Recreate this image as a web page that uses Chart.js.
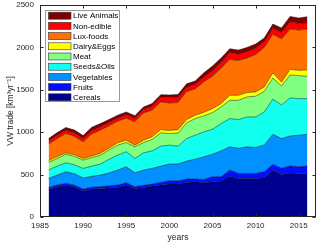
<!DOCTYPE html>
<html>
<head>
<meta charset="utf-8">
<script src="https://cdn.jsdelivr.net/npm/chart.js@4.4.0/dist/chart.umd.min.js"></script>
<style>
html, body { margin: 0; padding: 0; background: #fff; }
#wrap { width: 320px; height: 246px; position: relative; }
</style>
</head>
<body>
<div id="wrap"><canvas id="vwChart"></canvas></div>
<script>
const years = [1986, 1987, 1988, 1989, 1990, 1991, 1992, 1993, 1994, 1995, 1996,
    1997, 1998, 1999, 2000, 2001, 2002, 2003, 2004, 2005, 2006, 2007, 2008, 2009,
    2010, 2011, 2012, 2013, 2014, 2015, 2016];
const cereals = [326, 355, 373, 355, 306, 330, 333, 345, 349, 376, 337, 349, 365, 376, 388, 390,
    408, 416, 405, 416, 424, 482, 455, 455, 450, 463, 553, 498, 518, 514, 514];
const fruits = [23, 23, 23, 20, 23, 22, 24, 23, 27, 28, 20, 24, 23, 32, 39, 35,
    39, 31, 38, 58, 50, 71, 59, 59, 64, 70, 67, 77, 84, 78, 86];
const vegetables = [106, 117, 137, 135, 131, 128, 137, 152, 177, 188, 165, 180, 185, 192, 197, 200,
    212, 235, 267, 267, 306, 274, 296, 313, 306, 317, 355, 350, 353, 373, 375];
const seedsOils = [100, 105, 106, 105, 113, 120, 130, 160, 176, 178, 168, 204, 207, 235, 223, 210,
    266, 283, 294, 294, 322, 334, 339, 353, 360, 389, 415, 397, 449, 431, 421];
const meat = [90, 90, 101, 100, 98, 100, 102, 110, 118, 108, 137, 121, 134, 157, 137, 155,
    185, 196, 188, 196, 196, 215, 227, 236, 244, 243, 249, 223, 271, 271, 263];
const dairyEggs = [20, 22, 17, 20, 19, 20, 23, 22, 28, 28, 20, 28, 31, 39, 36, 40,
    39, 39, 43, 47, 39, 59, 59, 51, 51, 51, 61, 45, 66, 62, 76];
const luxFoods = [195, 213, 228, 215, 196, 258, 275, 263, 254, 259, 275, 321, 314, 326, 325, 320,
    331, 310, 360, 382, 418, 424, 410, 408, 440, 467, 455, 510, 475, 475, 481];
const nonEdible = [40, 40, 37, 40, 40, 40, 39, 40, 36, 43, 43, 40, 47, 59, 63, 60,
    50, 55, 55, 65, 70, 81, 75, 75, 77, 67, 70, 75, 86, 80, 74];
const liveAnimals = [26, 30, 33, 35, 34, 40, 39, 35, 35, 31, 30, 31, 31, 27, 32, 35,
    40, 40, 50, 55, 50, 44, 48, 50, 48, 43, 50, 55, 63, 63, 72];

const seriesNames = ['Cereals', 'Fruits', 'Vegetables', 'Seeds&Oils', 'Meat',
    'Dairy&Eggs', 'Lux-foods', 'Non-edible', 'Live Animals'];
const seriesData = [cereals, fruits, vegetables, seedsOils, meat,
    dairyEggs, luxFoods, nonEdible, liveAnimals];
const seriesColors = ['#00008f', '#0010ff', '#0090ff', '#10ffef', '#80ff80',
    '#ffff00', '#ff7000', '#ff0000', '#800000'];

const xTicks = [1985, 1990, 1995, 2000, 2005, 2010, 2015];
const yTicks = [0, 500, 1000, 1500, 2000, 2500];

const FONT = "'Liberation Sans', Arial, Helvetica, sans-serif";
const AXIS = '#262626';

const datasets = seriesNames.map((name, i) => ({
    label: name,
    data: years.map((yr, k) => ({ x: yr, y: seriesData[i][k] })),
    backgroundColor: seriesColors[i],
    borderColor: 'rgba(0,0,0,0.75)',
    borderWidth: 0.6,
    pointRadius: 0,
    tension: 0,
    fill: i === 0 ? 'origin' : '-1'
}));

// legend box drawn inside the plot, top-left, top layer first
const boxLegend = {
    id: 'boxLegend',
    afterDraw(chart) {
        const ctx = chart.ctx;
        ctx.save();
        ctx.fillStyle = '#fff';
        ctx.fillRect(45, 10, 75, 92);
        ctx.strokeStyle = '#999';
        ctx.lineWidth = 1;
        ctx.strokeRect(45.5, 10.5, 74, 91);
        ctx.font = '8px ' + FONT;
        ctx.textBaseline = 'middle';
        const order = chart.data.datasets.slice().reverse();
        order.forEach((ds, i) => {
            const cy = 15.7 + i * 10.2;
            ctx.fillStyle = ds.backgroundColor;
            ctx.fillRect(48.5, cy - 3.5, 22.5, 7);
            ctx.strokeStyle = '#333';
            ctx.lineWidth = 0.6;
            ctx.strokeRect(48.5, cy - 3.5, 22.5, 7);
            ctx.fillStyle = '#000';
            ctx.fillText(ds.label, 73, cy + 0.5);
        });
        ctx.restore();
    }
};

// axes box with inward ticks on all four sides
const frameTicks = {
    id: 'frameTicks',
    afterDraw(chart) {
        const { ctx, chartArea: a, scales: { x, y } } = chart;
        ctx.save();
        ctx.strokeStyle = AXIS;
        ctx.lineWidth = 1;
        const l = Math.round(a.left) + 0.5, r = Math.round(a.right) - 0.5;
        const t = Math.round(a.top) + 0.5, b = Math.round(a.bottom) - 0.5;
        ctx.strokeRect(l, t, r - l, b - t);
        ctx.beginPath();
        xTicks.forEach(v => {
            const px = Math.round(x.getPixelForValue(v)) + 0.5;
            ctx.moveTo(px, b); ctx.lineTo(px, b - 3);
            ctx.moveTo(px, t); ctx.lineTo(px, t + 3);
        });
        yTicks.forEach(v => {
            const py = Math.round(y.getPixelForValue(v)) + 0.5;
            ctx.moveTo(l, py); ctx.lineTo(l + 3, py);
            ctx.moveTo(r, py); ctx.lineTo(r - 3, py);
        });
        ctx.stroke();
        ctx.restore();
    }
};

new Chart(document.getElementById('vwChart'), {
    type: 'line',
    data: { datasets: datasets },
    options: {
        responsive: true,
        maintainAspectRatio: false,
        animation: false,
        layout: { padding: { left: 0, right: 4, top: 5, bottom: 0 } },
        plugins: {
            legend: { display: false },
            tooltip: { enabled: false },
            filler: { drawTime: 'beforeDatasetsDraw' }
        },
        scales: {
            x: {
                type: 'linear',
                min: 1985,
                max: 2017,
                afterBuildTicks: s => { s.ticks = xTicks.map(v => ({ value: v })); },
                afterFit: s => { s.height = 29; s.paddingLeft = 0; s.paddingRight = 0; },
                grid: { display: false, drawTicks: false },
                border: { display: false },
                ticks: {
                    padding: 4,
                    maxRotation: 0,
                    autoSkip: false,
                    color: AXIS,
                    font: { family: FONT, size: 8 },
                    callback: v => String(v)
                },
                title: {
                    display: true,
                    text: 'years',
                    color: AXIS,
                    font: { family: FONT, size: 8.5 },
                    padding: { top: 0, bottom: 3 }
                }
            },
            y: {
                stacked: true,
                min: 0,
                max: 2500,
                afterBuildTicks: s => { s.ticks = yTicks.map(v => ({ value: v })); },
                afterFit: s => { s.width = 40; s.paddingTop = 0; s.paddingBottom = 0; },
                grid: { display: false, drawTicks: false },
                border: { display: false },
                ticks: {
                    padding: 6,
                    color: AXIS,
                    font: { family: FONT, size: 8 },
                    callback: v => String(v)
                },
                title: {
                    display: true,
                    text: 'VW trade [km³yr⁻¹]',
                    color: AXIS,
                    font: { family: FONT, size: 8.5 },
                    padding: { top: 6, bottom: 0 }
                }
            }
        }
    },
    plugins: [boxLegend, frameTicks]
});
</script>
</body>
</html>
